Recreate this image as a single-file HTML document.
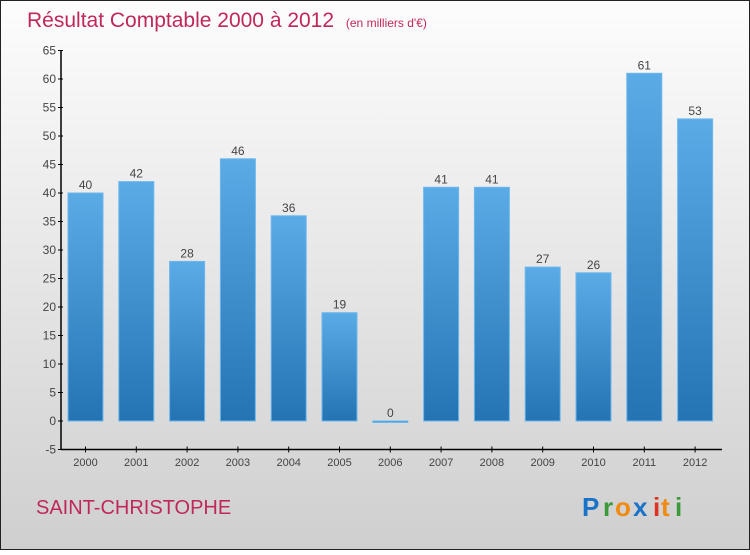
<!DOCTYPE html>
<html><head><meta charset="utf-8"><style>
body{margin:0;width:750px;height:550px;overflow:hidden;font-family:"Liberation Sans",sans-serif}
</style></head><body>
<svg width="750" height="550" xmlns="http://www.w3.org/2000/svg">
<defs>
<linearGradient id="bg" x1="0" y1="0" x2="0" y2="1"><stop offset="0" stop-color="#fdfdfd"/><stop offset="1" stop-color="#cfcfcf"/></linearGradient>
<linearGradient id="bar" x1="0" y1="0" x2="0" y2="1"><stop offset="0" stop-color="#5aabe6"/><stop offset="1" stop-color="#2474b4"/></linearGradient>
</defs>
<rect x="0.5" y="0.5" width="749" height="549" fill="url(#bg)" stroke="#222"/>
<text x="27" y="27" font-size="21" fill="#c0285a">Résultat Comptable 2000 à 2012 <tspan font-size="12" dx="6">(en milliers d'€)</tspan></text>
<g id="axes"></g>
<g id="bars"></g>
<text x="36" y="514" font-size="20" fill="#c0285a">SAINT-CHRISTOPHE</text>
<g font-size="26" font-weight="bold">
<text x="582" y="516" fill="#1a73c8">P</text><text x="603" y="516" fill="#3a9a3a">r</text><text x="615" y="516" fill="#f08a10">o</text><text x="633" y="516" fill="#1a73c8">x</text><text x="653" y="516" fill="#e03020">i</text><text x="661" y="516" fill="#f08a10">t</text><text x="675" y="516" fill="#3a9a3a">i</text>
</g>
</svg>
<script>
const years=["2000","2001","2002","2003","2004","2005","2006","2007","2008","2009","2010","2011","2012"];
const values=[40,42,28,46,36,19,0,41,41,27,26,61,53];
const yTicks=[-5,0,5,10,15,20,25,30,35,40,45,50,55,60,65];
const NS="http://www.w3.org/2000/svg";
const y=v=>421-(v*5.7);
const x=i=>85.5+i*50.8;
function mk(t,a,p){const e=document.createElementNS(NS,t);for(const k in a)e.setAttribute(k,a[k]);p.appendChild(e);return e;}
const ax=document.getElementById('axes'),bg=document.getElementById('bars');
let l=mk('line',{x1:61,y1:y(65),x2:61,y2:y(-5),stroke:'#000','stroke-width':1.5},ax);


l=mk('line',{x1:61,y1:y(-5),x2:722,y2:y(-5),stroke:'#000','stroke-width':1.5},ax);


yTicks.forEach(v=>{
 mk('line',{x1:58,y1:y(v),x2:63,y2:y(v),stroke:'#000'},ax);
 const t=mk('text',{x:56,y:y(v)+4,'text-anchor':'end','font-size':12,fill:'#444'},ax);
 t.textContent=v;
 
 
});
years.forEach((yr,i)=>{
 mk('line',{x1:x(i),y1:y(-5)-3,x2:x(i),y2:y(-5)+3,stroke:'#000'},ax);
 const t=mk('text',{x:x(i),y:466,'text-anchor':'middle','font-size':11,fill:'#444'},ax);
 t.textContent=yr;
 
 
 const v=values[i];
 const top=Math.min(y(v),y(0)),h=Math.max(Math.abs(y(0)-y(v)),1.5);
 const r=mk('rect',{x:x(i)-17.5,y:top,width:35,height:h,fill:'url(#bar)',stroke:'#6bb8ee','stroke-width':1},bg);
 
 
 const lb=mk('text',{x:x(i),y:top-4,'text-anchor':'middle','font-size':12,fill:'#444'},bg);
 lb.textContent=v;
 
 
});
</script>
</body></html>
